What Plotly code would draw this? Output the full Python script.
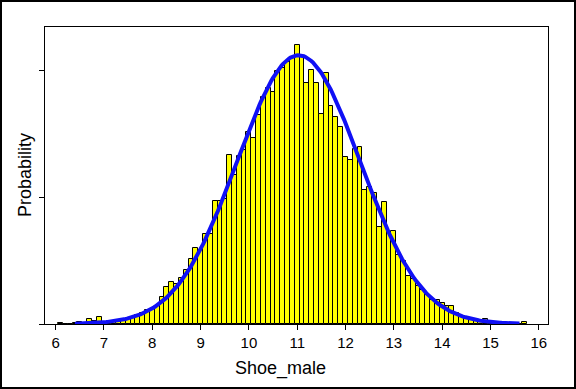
import numpy as np
import plotly.graph_objects as go

# Histogram of Shoe_male (bin width 0.1, bars centred on the bin value)
bin_centers = [round(6.1 + 0.1 * i, 1) for i in range(97)]  # 6.1 .. 15.7
density = [
    0.0012, 0.0, 0.0, 0.0006, 0.0020, 0.0012, 0.0064, 0.0035, 0.0082,  # 6.1-6.9
    0.0023, 0.0023, 0.0029, 0.0035, 0.0047, 0.0053, 0.0067, 0.0105, 0.0134, 0.0158,  # 7.0-7.9
    0.0181, 0.0205, 0.0316, 0.0438, 0.0487, 0.0473, 0.0538, 0.0631, 0.0756, 0.0894,  # 8.0-8.9
    0.0865, 0.1052, 0.1052, 0.1438, 0.1438, 0.1461, 0.1976, 0.1742, 0.1964, 0.2034,  # 9.0-9.9
    0.2239, 0.2174, 0.2443, 0.2654, 0.2759, 0.2712, 0.2958, 0.2993, 0.3063, 0.3110,  # 10.0-10.9
    0.3262, 0.3133, 0.2814, 0.2969, 0.2814, 0.2455, 0.2931, 0.2554, 0.2420, 0.2303,  # 11.0-11.9
    0.1958, 0.1917, 0.2046, 0.2075, 0.1567, 0.1602, 0.1528, 0.1137, 0.1432, 0.1070,  # 12.0-12.9
    0.1087, 0.0801, 0.0737, 0.0561, 0.0526, 0.0444, 0.0392, 0.0339, 0.0281, 0.0277,  # 13.0-13.9
    0.0251, 0.0210, 0.0210, 0.0125, 0.0097, 0.0064, 0.0047, 0.0037, 0.0027, 0.0055,  # 14.0-14.9
    0.0020, 0.0012, 0.0008, 0.0006, 0.0, 0.0006, 0.0, 0.0023,  # 15.0-15.7
]
bin_width = 0.1

# Fitted normal curve parameters
mu = 11.03
sigma = 1.27
curve_min, curve_max = 6.4, 15.6

x_ticks = [6, 7, 8, 9, 10, 11, 12, 13, 14, 15, 16]
y_ticks = [0, 0.148, 0.296]
x_title = "Shoe_male"
y_title = "Probability"

xc = np.linspace(curve_min, curve_max, 300)
yc = np.exp(-0.5 * ((xc - mu) / sigma) ** 2) / (sigma * np.sqrt(2 * np.pi))

fig = go.Figure()
fig.add_trace(go.Bar(
    x=bin_centers, y=density, width=bin_width,
    marker=dict(color="#FFFF00", line=dict(color="black", width=1)),
    showlegend=False,
))
fig.add_trace(go.Scatter(
    x=xc, y=yc, mode="lines",
    line=dict(color="#1010F5", width=4),
    showlegend=False,
))

W, H = 576, 389
L, R, T, B = 45, 28, 27, 65
pw, ph = W - L - R, H - T - B

def px_x(p):
    return (p - L) / pw

def px_y(p):
    return (T + ph - p) / ph

fig.update_layout(
    width=W, height=H,
    margin=dict(l=L, r=R, t=T, b=B),
    paper_bgcolor="white", plot_bgcolor="white",
    font=dict(family="Liberation Sans, Arial, sans-serif", color="black"),
    bargap=0,
    xaxis=dict(
        range=[5.78, 16.19], tickvals=x_ticks, ticktext=[str(v) for v in x_ticks],
        ticks="outside", ticklen=5, tickwidth=1, tickcolor="black",
        showline=True, linecolor="black", linewidth=1, mirror=True,
        showgrid=False, zeroline=False,
        tickfont=dict(size=15),
    ),
    yaxis=dict(
        range=[0, 0.3472], tickvals=y_ticks, showticklabels=False,
        ticks="outside", ticklen=5, tickwidth=1, tickcolor="black",
        showline=True, linecolor="black", linewidth=1, mirror=True,
        showgrid=False, zeroline=False,
    ),
    annotations=[
        dict(text=x_title, xref="paper", yref="paper", x=px_x(280), y=px_y(368),
             xanchor="center", yanchor="middle", showarrow=False,
             font=dict(size=18)),
        dict(text=y_title, xref="paper", yref="paper", x=px_x(25), y=px_y(175),
             xanchor="center", yanchor="middle", showarrow=False, textangle=-90,
             font=dict(size=18)),
    ],
    shapes=[dict(
        type="rect", xref="paper", yref="paper",
        x0=px_x(1), x1=px_x(W - 1), y0=px_y(H - 1), y1=px_y(1),
        line=dict(color="black", width=2), fillcolor="rgba(0,0,0,0)",
        layer="above",
    )],
)

fig.write_html("out.html", config={"displayModeBar": False},
               post_script="document.body.style.margin='0';")
